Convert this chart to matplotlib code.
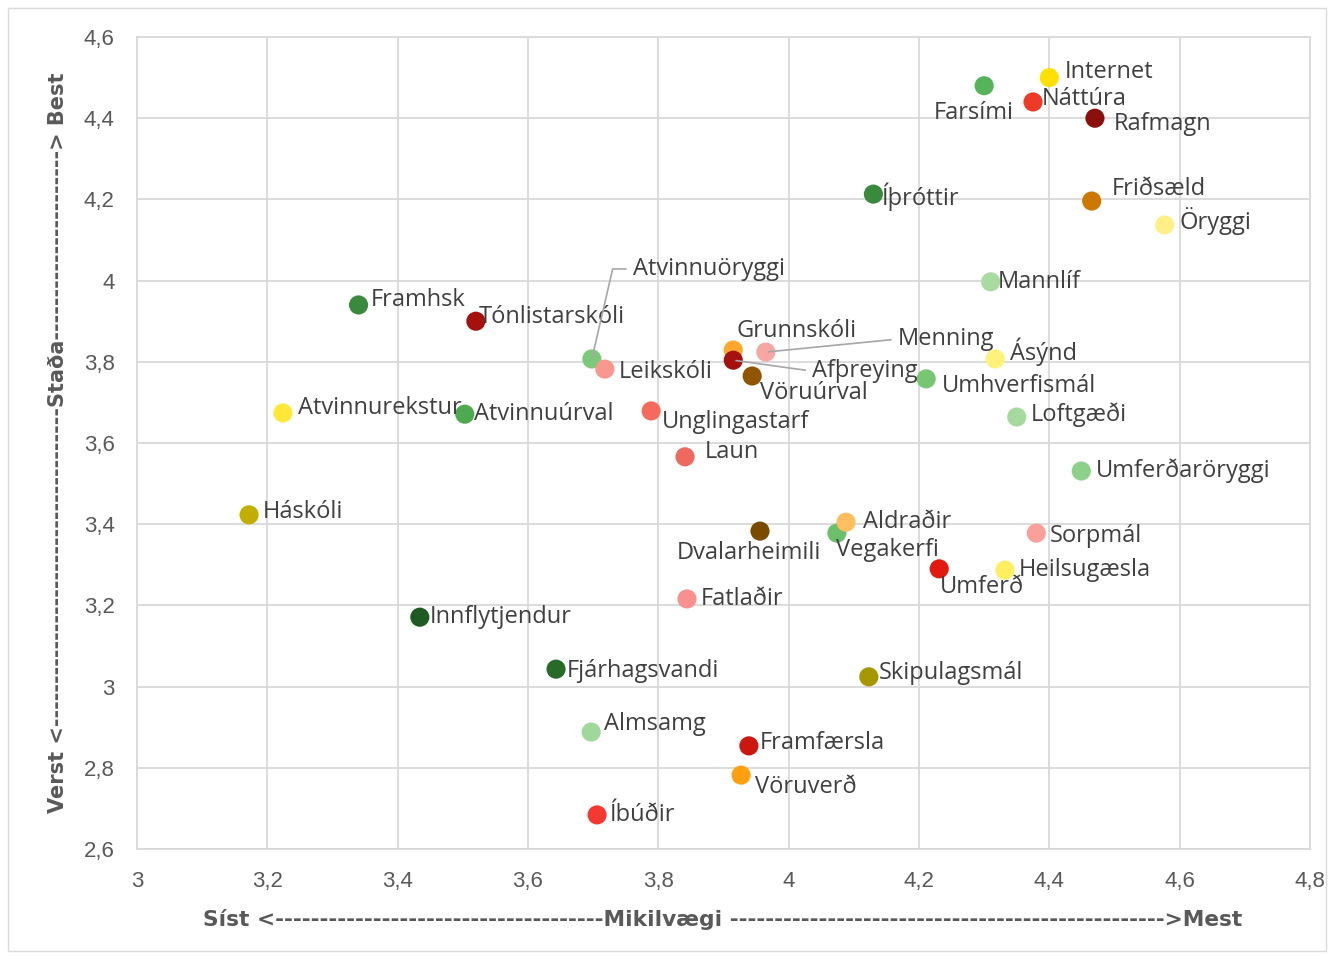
import matplotlib.pyplot as plt
from matplotlib.patches import Rectangle
from matplotlib.ticker import FuncFormatter

# ------------------------------------------------------------
# Data: importance (x) vs. status (y) per topic
# ------------------------------------------------------------

names = [
    "Internet", "Náttúra", "Farsími", "Rafmagn", "Íþróttir", "Friðsæld",
    "Öryggi", "Mannlíf", "Framhsk", "Tónlistarskóli", "Atvinnuöryggi",
    "Leikskóli", "Grunnskóli", "Menning", "Afþreying", "Vöruúrval",
    "Ásýnd", "Umhverfismál", "Loftgæði", "Atvinnurekstur", "Atvinnuúrval",
    "Unglingastarf", "Laun", "Umferðaröryggi", "Háskóli", "Dvalarheimili",
    "Vegakerfi", "Aldraðir", "Sorpmál", "Umferð", "Heilsugæsla", "Fatlaðir",
    "Innflytjendur", "Fjárhagsvandi", "Skipulagsmál", "Almsamg",
    "Framfærsla", "Vöruverð", "Íbúðir",
]

importance = [
    4.40, 4.375, 4.30, 4.47, 4.13, 4.465,
    4.577, 4.31, 3.34, 3.52, 3.698,
    3.718, 3.915, 3.965, 3.915, 3.944,
    4.317, 4.211, 4.35, 3.224, 3.503,
    3.789, 3.841, 4.449, 3.172, 3.956,
    4.074, 4.088, 4.38, 4.231, 4.332, 3.844,
    3.434, 3.643, 4.123, 3.697,
    3.939, 3.927, 3.706,
]

status = [
    4.50, 4.44, 4.48, 4.40, 4.213, 4.196,
    4.137, 3.997, 3.94, 3.90, 3.807,
    3.782, 3.829, 3.824, 3.804, 3.765,
    3.807, 3.758, 3.664, 3.674, 3.671,
    3.679, 3.566, 3.531, 3.423, 3.383,
    3.378, 3.405, 3.378, 3.29, 3.287, 3.216,
    3.171, 3.043, 3.024, 2.888,
    2.854, 2.782, 2.684,
]

colors = [
    "#FFE000", "#F03A28", "#55B35A", "#8B0F0A", "#3A8A3E", "#CC7700",
    "#FFEF88", "#A9DBA0", "#3A8A3E", "#A5120E", "#7DC87A",
    "#F8978D", "#FFA830", "#F7A7A3", "#A5120E", "#915400",
    "#FFF27A", "#77C672", "#A5D99E", "#FFE83A", "#4DAA50",
    "#F46B5E", "#EE6A5E", "#8CD08A", "#C2AE00", "#7A4A00",
    "#6CC06C", "#FFBF60", "#F9A09A", "#E3180E", "#FFEE60", "#F89090",
    "#1E5A22", "#276B2B", "#A69600", "#A0D79A",
    "#CC1610", "#FFA010", "#F43A30",
]

# label offsets in pixels (dx right, dy down) and horizontal alignment
label_pos = {
    "Internet": (15, -6, "left"),
    "Náttúra": (9, -3, "left"),
    "Farsími": (-10, 27, "center"),
    "Rafmagn": (19, 6, "left"),
    "Íþróttir": (9, 3, "left"),
    "Friðsæld": (20, -12, "left"),
    "Öryggi": (15, -4, "left"),
    "Mannlíf": (7, 0, "left"),
    "Framhsk": (12, -5, "left"),
    "Tónlistarskóli": (3, -4, "left"),
    "Atvinnuöryggi": (41, -90, "left"),
    "Leikskóli": (14, 3, "left"),
    "Grunnskóli": (3, -19, "left"),
    "Menning": (132, -13, "left"),
    "Afþreying": (79, 11, "left"),
    "Vöruúrval": (8, 17, "left"),
    "Ásýnd": (15, -7, "left"),
    "Umhverfismál": (16, 7, "left"),
    "Loftgæði": (14, -2, "left"),
    "Atvinnurekstur": (15, -5, "left"),
    "Atvinnuúrval": (9, 0, "left"),
    "Unglingastarf": (11, 11, "left"),
    "Laun": (20, -5, "left"),
    "Umferðaröryggi": (15, 0, "left"),
    "Háskóli": (14, -3, "left"),
    "Dvalarheimili": (-11, 22, "center"),
    "Vegakerfi": (-1, 17, "left"),
    "Aldraðir": (17, 0, "left"),
    "Sorpmál": (14, 3, "left"),
    "Umferð": (1, 18, "left"),
    "Heilsugæsla": (14, 0, "left"),
    "Fatlaðir": (14, 0, "left"),
    "Innflytjendur": (10, 0, "left"),
    "Fjárhagsvandi": (11, 2, "left"),
    "Skipulagsmál": (10, -4, "left"),
    "Almsamg": (13, -8, "left"),
    "Framfærsla": (11, -3, "left"),
    "Vöruverð": (14, 12, "left"),
    "Íbúðir": (13, 0, "left"),
}

leader = {
    "Atvinnuöryggi": "angle,angleA=180,angleB=77,rad=0",
    "Menning": "arc3",
    "Afþreying": "arc3",
}

x_ticks = [3.0, 3.2, 3.4, 3.6, 3.8, 4.0, 4.2, 4.4, 4.6, 4.8]
y_ticks = [2.6, 2.8, 3.0, 3.2, 3.4, 3.6, 3.8, 4.0, 4.2, 4.4, 4.6]

# ------------------------------------------------------------
# Plot
# ------------------------------------------------------------

plt.rcParams["font.family"] = ["Open Sans", "DejaVu Sans"]

W, H = 1334, 959
fig = plt.figure(figsize=(W / 100, H / 100), dpi=100)
fig.patches.append(Rectangle((8 / W, 8 / H), 1 - 16 / W, 1 - 16 / H,
                             transform=fig.transFigure, fill=False,
                             edgecolor="#D9D9D9", linewidth=1))

ax = fig.add_axes([137 / W, 1 - 849 / H, (1310 - 137) / W, (849 - 37) / H])

ax.set_xlim(3.0, 4.8)
ax.set_ylim(2.6, 4.6)
ax.set_xticks(x_ticks)
ax.set_yticks(y_ticks)

fmt = FuncFormatter(lambda v, _: (f"{v:.1f}".rstrip("0").rstrip(".")).replace(".", ","))
ax.xaxis.set_major_formatter(fmt)
ax.yaxis.set_major_formatter(fmt)

ax.grid(True, color="#D9D9D9", linewidth=1.3)
ax.set_axisbelow(True)
for s in ax.spines.values():
    s.set_color("#D9D9D9")
    s.set_linewidth(1.3)
ax.tick_params(length=0, labelcolor="#595959")
ax.tick_params(axis="x", pad=16)
ax.tick_params(axis="y", pad=16)
for lbl in ax.get_xticklabels() + ax.get_yticklabels():
    lbl.set_fontfamily("Liberation Sans")
    lbl.set_fontsize(16)

ax.scatter(importance, status, s=190, c=colors, linewidths=0, zorder=3)

for name, xv, yv in zip(names, importance, status):
    dx, dy, ha = label_pos[name]
    arrow = None
    if name in leader:
        arrow = dict(arrowstyle="-", color="#A6A6A6", lw=1.2,
                     shrinkA=3, shrinkB=2, relpos=(0, 0.5),
                     connectionstyle=leader[name])
    ax.annotate(name, (xv, yv), xytext=(dx, -dy), textcoords="offset pixels",
                ha=ha, va="center", fontsize=17, color="#404040",
                arrowprops=arrow, zorder=4)

x_label = "Síst <" + "-" * 37 + "Mikilvægi " + "-" * 49 + ">Mest"
y_label = "Verst <" + "-" * 37 + "Staða" + "-" * 22 + "> Best"

fig.text(723 / W, 1 - 919 / H, x_label, ha="center", va="center",
         fontsize=15.7, fontweight="bold", color="#595959", family="DejaVu Sans")
fig.text(58 / W, 1 - 443 / H, y_label, ha="center", va="center", rotation=90,
         fontsize=15, fontweight="bold", color="#595959", family="DejaVu Sans")

fig.savefig("out.png", dpi=100)
